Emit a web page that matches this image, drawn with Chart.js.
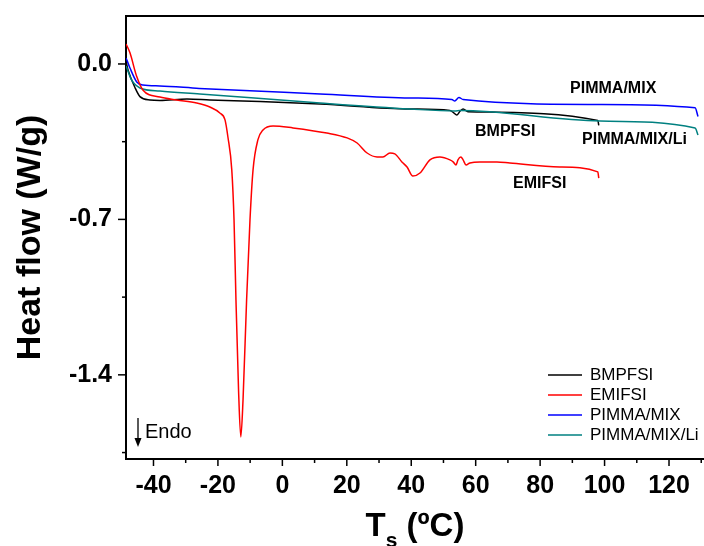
<!DOCTYPE html>
<html><head><meta charset="utf-8">
<script src="https://cdn.jsdelivr.net/npm/chart.js@4.4.1/dist/chart.umd.min.js"></script>
<style>html,body{margin:0;padding:0;background:#fff}#wrap{width:704px;height:546px}</style>
</head><body><div id="wrap"><canvas id="c" width="704" height="546"></canvas></div>
<script>
// ---- data ----
const seriesNames = ['BMPFSI', 'EMIFSI', 'PIMMA/MIX', 'PIMMA/MIX/Li'];

const bmpfsiT  = [-48.5, -47.9, -45.7, -44.2, -41.1, -38.0, -29.6, -22.5, -6.9, 11.7, 39.6, 52.0, 53.2, 54.1, 55.2, 56.1, 57.6, 97.9, 98.2];
const bmpfsiHF = [0.009, -0.027, -0.108, -0.147, -0.162, -0.164, -0.158, -0.162, -0.169, -0.180, -0.203, -0.209, -0.220, -0.230, -0.212, -0.203, -0.215, -0.254, -0.277];

const emifsiT  = [-48.5, -47.3, -45.2, -43.3, -38.0, -32.8, -26.6, -22.5, -19.4, -17.8, -16.9, -15.7, -15.0, -14.4, -13.6, -12.9, -12.2, -11.1, -10.05, -9.1, -7.6, -6.0, -2.9, 3.3, 13.8, 20.1, 23.2, 26.3, 29.4, 31.2, 33.4, 34.9, 37.1, 38.7, 40.5, 42.7, 45.8, 48.9, 52.0, 53.0, 53.9, 54.5, 55.4, 56.1, 57.0, 58.2, 61.3, 66.6, 70.6, 86.1, 97.9, 98.2];
const emifsiHF = [0.090, 0.050, -0.057, -0.117, -0.149, -0.162, -0.176, -0.194, -0.221, -0.252, -0.329, -0.477, -0.703, -1.063, -1.468, -1.680, -1.510, -1.063, -0.703, -0.477, -0.342, -0.297, -0.279, -0.288, -0.311, -0.333, -0.356, -0.401, -0.419, -0.419, -0.401, -0.405, -0.441, -0.464, -0.505, -0.491, -0.432, -0.419, -0.432, -0.441, -0.455, -0.432, -0.419, -0.432, -0.455, -0.446, -0.441, -0.441, -0.446, -0.464, -0.486, -0.514];

const pimmaMixT  = [-48.5, -47.3, -45.2, -43.3, -38.0, -25.8, 11.7, 39.6, 52.6, 53.5, 54.8, 56.1, 98.6, 128.1, 129.0];
const pimmaMixHF = [0.027, -0.018, -0.081, -0.095, -0.099, -0.110, -0.135, -0.153, -0.160, -0.167, -0.151, -0.160, -0.182, -0.197, -0.237];

const pimmaMixLiT  = [-48.5, -46.8, -44.2, -38.0, -25.6, 11.7, 39.6, 53.6, 55.0, 98.6, 128.1, 129.0];
const pimmaMixLiHF = [-0.009, -0.072, -0.108, -0.122, -0.135, -0.176, -0.203, -0.212, -0.210, -0.257, -0.288, -0.320];

const xMajorTicks = [-40, -20, 0, 20, 40, 60, 80, 100, 120];
const xMinorTicks = [-30, -10, 10, 30, 50, 70, 90, 110, 130];
const xTickLabels = ['-40', '-20', '0', '20', '40', '60', '80', '100', '120'];
const yMajorTicks = [0, -0.7, -1.4];
const yMinorTicks = [-0.35, -1.05, -1.75];
const yTickLabels = ['0.0', '-0.7', '-1.4'];

// curve labels anchored in data coordinates (T, heat flow)
const curveLabelText = ['PIMMA/MIX', 'BMPFSI', 'PIMMA/MIX/Li', 'EMIFSI'];
const curveLabelT    = [89.3, 59.8, 93.0, 71.6];
const curveLabelHF   = [-0.113, -0.306, -0.342, -0.538];

// ---- chart ----
const pts = (T, H) => T.map((t, i) => ({x: t, y: H[i]}));
const colors = ['#000000', '#ff0000', '#0000ff', '#008080'];
const seriesT = [bmpfsiT, emifsiT, pimmaMixT, pimmaMixLiT];
const seriesH = [bmpfsiHF, emifsiHF, pimmaMixHF, pimmaMixLiHF];
const drawOrder = [3, 1, 4, 2];

const BOLD = 'bold';
const FAM = '"Liberation Sans", Arial, sans-serif';

const decor = {
  id: 'decor',
  afterDraw(chart) {
    const {ctx, chartArea: a, scales: {x, y}} = chart;
    const seg = (x1, y1, x2, y2) => { ctx.beginPath(); ctx.moveTo(x1, y1); ctx.lineTo(x2, y2); ctx.stroke(); };
    ctx.save();
    ctx.strokeStyle = '#000';
    ctx.lineWidth = 2;
    seg(a.left - 1, a.top, a.right, a.top);
    ctx.lineWidth = 1.5;
    xMajorTicks.forEach(v => { const p = x.getPixelForValue(v); seg(p, a.bottom, p, a.bottom + 7); });
    xMinorTicks.forEach(v => { const p = x.getPixelForValue(v); if (p <= a.right) seg(p, a.bottom, p, a.bottom + 4); });
    yMajorTicks.forEach(v => { const p = y.getPixelForValue(v); seg(a.left - 8, p, a.left, p); });
    yMinorTicks.forEach(v => { const p = y.getPixelForValue(v); seg(a.left - 4, p, a.left, p); });

    ctx.fillStyle = '#000';
    // y title
    ctx.save();
    ctx.translate(31, (a.top + a.bottom) / 2);
    ctx.rotate(-Math.PI / 2);
    ctx.font = BOLD + ' 34px ' + FAM;
    ctx.textAlign = 'center';
    ctx.textBaseline = 'middle';
    ctx.fillText('Heat flow (W/g)', 0, 0);
    ctx.restore();

    // x title with subscript
    ctx.textAlign = 'left';
    ctx.textBaseline = 'alphabetic';
    const big = BOLD + ' 33px ' + FAM, small = BOLD + ' 21px ' + FAM;
    ctx.font = big; const wT = ctx.measureText('T').width; const wR = ctx.measureText(' (ºC)').width;
    ctx.font = small; const wS = ctx.measureText('s').width;
    const cx = (a.left + a.right) / 2;
    let sx = cx - (wT + wS + wR) / 2;
    const base = 536;
    ctx.font = big; ctx.fillText('T', sx, base); sx += wT;
    ctx.font = small; ctx.fillText('s', sx, base + 11); sx += wS;
    ctx.font = big; ctx.fillText(' (ºC)', sx, base);

    // curve labels
    ctx.font = BOLD + ' 16px ' + FAM;
    ctx.textBaseline = 'middle';
    curveLabelText.forEach((t, i) => {
      ctx.fillText(t, x.getPixelForValue(curveLabelT[i]), y.getPixelForValue(curveLabelHF[i]));
    });

    // legend
    ctx.font = '17px ' + FAM;
    chart.data.datasets.forEach((ds, i) => {
      const ly = 375 + i * 20;
      ctx.strokeStyle = ds.borderColor; ctx.lineWidth = 1.5;
      seg(548, ly, 582, ly);
      ctx.fillStyle = '#000';
      ctx.fillText(ds.label, 590, ly);
    });

    // Endo arrow
    ctx.strokeStyle = '#000'; ctx.lineWidth = 1.3;
    seg(138, 418, 138, 440);
    ctx.beginPath(); ctx.moveTo(134.5, 438); ctx.lineTo(141.5, 438); ctx.lineTo(138, 447); ctx.closePath(); ctx.fill();
    ctx.font = '20px ' + FAM;
    ctx.fillText('Endo', 145, 432);
    ctx.restore();
  }
};

new Chart(document.getElementById('c'), {
  type: 'line',
  data: {
    datasets: seriesNames.map((n, i) => ({
      label: n,
      data: pts(seriesT[i], seriesH[i]),
      borderColor: colors[i],
      backgroundColor: colors[i],
      borderWidth: 1.5,
      pointRadius: 0,
      fill: false,
      cubicInterpolationMode: 'monotone',
      order: drawOrder[i]
    }))
  },
  options: {
    responsive: false,
    devicePixelRatio: 1,
    animation: false,
    layout: {padding: {top: 16, right: 0, left: 0, bottom: 0}},
    plugins: {legend: {display: false}, tooltip: {enabled: false}},
    scales: {
      x: {
        type: 'linear', min: -48.53, max: 130.86,
        grid: {display: false, drawTicks: false, tickLength: 0},
        border: {display: true, color: '#000', width: 2},
        ticks: {
          color: '#000', padding: 12, maxRotation: 0, autoSkip: false,
          font: {family: FAM, size: 25, weight: 'bold'},
          callback: (v) => { const k = xMajorTicks.indexOf(v); return k >= 0 ? xTickLabels[k] : ''; }
        },
        afterBuildTicks: (s) => { s.ticks = xMajorTicks.map(v => ({value: v})); },
        afterFit: (s) => { s.height = 87; s.paddingLeft = 0; s.paddingRight = 0; s.paddingTop = 0; s.paddingBottom = 0; }
      },
      y: {
        type: 'linear', min: -1.779, max: 0.216,
        grid: {display: false, drawTicks: false, tickLength: 0},
        border: {display: true, color: '#000', width: 2},
        ticks: {
          color: '#000', padding: 14, autoSkip: false,
          font: {family: FAM, size: 25, weight: 'bold'},
          callback: (v) => { const k = yMajorTicks.findIndex(t => Math.abs(t - v) < 1e-6); return k >= 0 ? yTickLabels[k] : ''; }
        },
        afterBuildTicks: (s) => { s.ticks = yMajorTicks.map(v => ({value: v})); },
        afterFit: (s) => { s.width = 126; s.paddingTop = 0; s.paddingBottom = 0; s.paddingLeft = 0; s.paddingRight = 0; }
      }
    }
  },
  plugins: [decor]
});
</script>
</body></html>
